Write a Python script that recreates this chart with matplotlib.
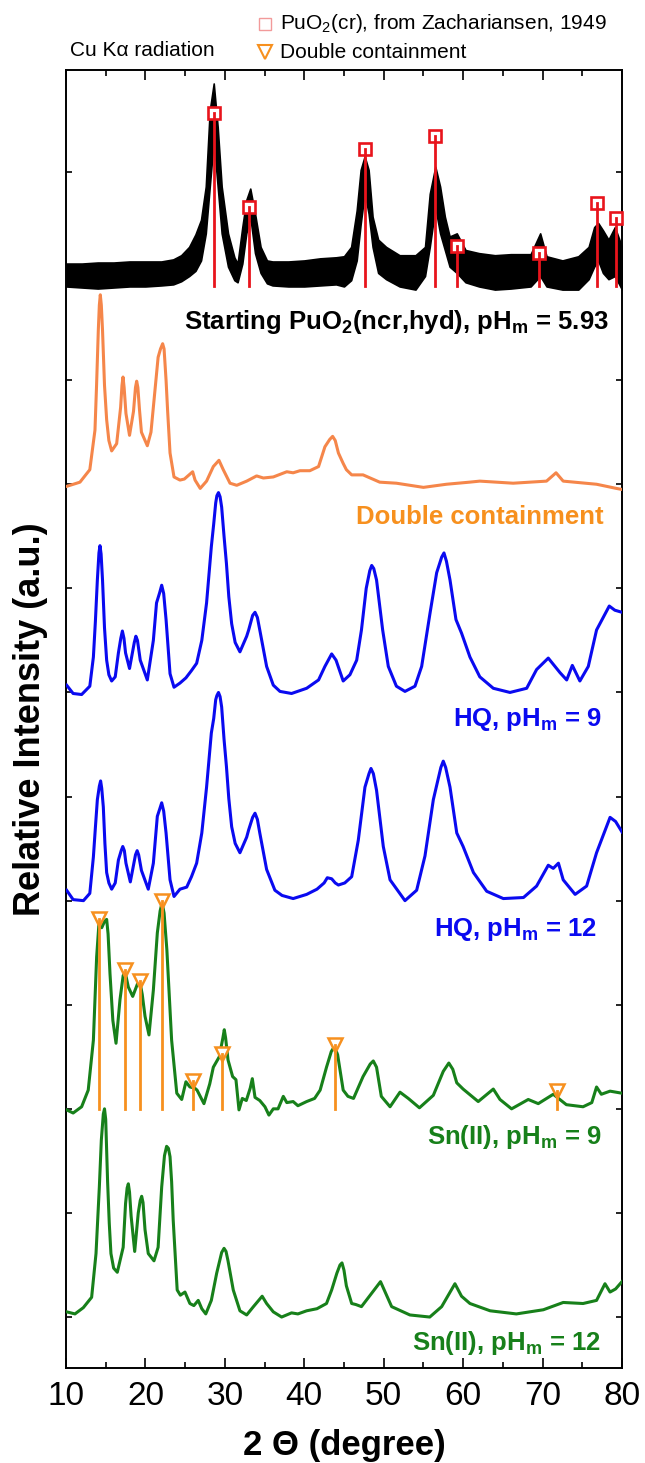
import matplotlib
matplotlib.use("Agg")
import matplotlib.pyplot as plt

plt.rcParams["font.family"] = ["Liberation Sans", "DejaVu Sans"]
plt.rcParams["mathtext.fontset"] = "custom"
plt.rcParams["mathtext.rm"] = "Liberation Sans"
plt.rcParams["mathtext.bf"] = "Liberation Sans:bold"

# ── data (2θ in degree, intensity in stacked units) ──
black_x = [10, 12, 14, 16, 18, 20, 22, 23.5, 24.5, 25.5, 26.3, 27.0, 27.6, 28.1, 28.6, 29.1,
           29.6, 30.4, 31.2, 31.6, 32.2, 32.7, 33.2, 33.8, 34.5, 35.3, 36, 38, 40, 42, 44, 45.0,
           45.9, 46.6, 47.1, 47.6, 48.1, 48.6, 49.3, 50.3, 52, 54, 55.2, 55.8, 56.5, 57.1, 57.7,
           58.3, 59.2, 60.3, 62, 64, 66, 68.5, 69.7, 70.5, 72.5, 74.5, 75.8, 76.5, 77.0, 77.6,
           78.3, 79.1, 80]
black_lo = [-0.10, -0.11, -0.12, -0.11, -0.10, -0.10, -0.09, -0.08, -0.05, 0.00, 0.05, 0.15, 0.41,
            0.86, 1.30, 0.86, 0.41, 0.09, -0.04, -0.06, 0.12, 0.41, 0.57, 0.22, 0.03, -0.07, -0.09,
            -0.10, -0.10, -0.09, -0.08, -0.10, -0.04, 0.15, 0.50, 0.80, 0.60, 0.28, 0.03, -0.03,
            -0.10, -0.13, 0.00, 0.28, 0.66, 0.41, 0.25, 0.09, 0.03, -0.06, -0.10, -0.13, -0.12,
            -0.10, 0.00, -0.10, -0.13, -0.13, -0.03, 0.09, 0.15, 0.03, -0.03, 0.00, -0.13]
black_hi = [0.12, 0.12, 0.13, 0.13, 0.14, 0.14, 0.14, 0.16, 0.20, 0.28, 0.40, 0.54, 0.86, 1.59,
            1.85, 1.43, 0.86, 0.41, 0.18, 0.12, 0.47, 0.73, 0.84, 0.60, 0.28, 0.15, 0.14, 0.14,
            0.15, 0.17, 0.18, 0.19, 0.28, 0.63, 1.02, 1.15, 1.02, 0.57, 0.35, 0.28, 0.20, 0.20,
            0.28, 0.79, 1.05, 0.86, 0.57, 0.38, 0.41, 0.25, 0.22, 0.20, 0.21, 0.21, 0.41, 0.19,
            0.15, 0.19, 0.28, 0.47, 0.51, 0.44, 0.35, 0.47, 0.28]

orange_x = [10.1, 11.76, 13.0, 13.65, 13.85, 14.07, 14.2, 14.32, 14.45, 14.6, 14.85, 15.12, 15.4,
            15.75, 16.38, 16.88, 17.05, 17.18, 17.32, 17.55, 18.0, 18.5, 18.75, 18.9, 19.05,
            19.25, 19.5, 20.24, 20.7, 21.2, 21.6, 21.9, 22.17, 22.35, 22.6, 22.8, 23.1, 23.6,
            24.35, 24.9, 25.95, 26.25, 26.9, 27.7, 28.55, 29.26, 29.8, 30.65, 31.5, 32.75, 34.0,
            34.85, 36.1, 37.8, 38.6, 39.46, 40.7, 41.8, 42.6, 43.2, 43.57, 43.9, 44.3, 44.9, 45.3,
            45.97, 47.4, 49.5, 51.6, 55.0, 57.9, 60.8, 62.1, 66.3, 70.5, 71.7, 72.6, 76.8, 79.3, 80]
orange_y = [-0.02, 0.02, 0.14, 0.52, 0.95, 1.48, 1.72, 1.82, 1.72, 1.48, 0.95, 0.62, 0.42, 0.32,
            0.39, 0.74, 0.95, 1.03, 0.93, 0.68, 0.47, 0.70, 0.93, 0.99, 0.93, 0.72, 0.50, 0.37,
            0.50, 0.90, 1.22, 1.30, 1.35, 1.30, 1.00, 0.70, 0.30, 0.07, 0.04, 0.05, 0.12, 0.04,
            -0.04, 0.03, 0.17, 0.23, 0.14, 0.01, -0.01, 0.03, 0.08, 0.06, 0.07, 0.12, 0.11, 0.13,
            0.13, 0.17, 0.36, 0.43, 0.46, 0.42, 0.30, 0.20, 0.14, 0.09, 0.09, 0.02, 0.01, -0.03,
            0.00, 0.02, 0.03, 0.01, 0.03, 0.11, 0.03, 0.00, -0.04, -0.05]

hq9_x = [10.08, 10.9, 11.97, 13.0, 13.45, 13.7, 13.95, 14.15, 14.28, 14.42, 14.6, 14.85, 15.12,
         15.4, 15.75, 16.2, 16.6, 16.9, 17.1, 17.3, 17.5, 18.0, 18.6, 18.8, 19.0, 19.35, 20.24,
         21.0, 21.4, 21.8, 22.05, 22.3, 22.6, 23.1, 23.6, 24.35, 25.1, 25.8, 26.45, 27.1, 27.7,
         28.3, 28.6, 28.85, 29.0, 29.2, 29.4, 29.6, 29.9, 30.2, 30.5, 30.86, 31.3, 31.9, 32.75,
         33.0, 33.5, 33.8, 34.1, 34.4, 35.26, 36.1, 36.94, 38.4, 40.3, 41.8, 42.6, 43.45, 44.0,
         44.9, 45.75, 46.6, 47.2, 47.8, 48.25, 48.49, 48.75, 49.1, 49.87, 50.58, 51.6, 52.68,
         53.94, 54.78, 55.83, 56.67, 57.3, 57.59, 57.9, 58.35, 59.1, 59.8, 60.86, 62.1, 63.8,
         65.9, 68.0, 69.25, 70.72, 72.2, 73.04, 73.75, 74.7, 75.76, 76.8, 78.4, 79.1, 80.0]
hq9_y = [0.07, -0.01, -0.02, 0.06, 0.34, 0.68, 1.08, 1.34, 1.41, 1.33, 1.08, 0.62, 0.31, 0.17,
         0.11, 0.15, 0.38, 0.52, 0.59, 0.52, 0.38, 0.23, 0.48, 0.54, 0.50, 0.31, 0.12, 0.50, 0.86,
         0.96, 1.03, 0.95, 0.70, 0.18, 0.05, 0.09, 0.14, 0.21, 0.28, 0.50, 0.86, 1.40, 1.62, 1.82,
         1.89, 1.92, 1.88, 1.78, 1.50, 1.24, 0.92, 0.66, 0.48, 0.39, 0.54, 0.60, 0.74, 0.77, 0.72,
         0.60, 0.25, 0.07, 0.01, -0.01, 0.04, 0.12, 0.25, 0.37, 0.31, 0.11, 0.17, 0.31, 0.60,
         1.00, 1.17, 1.22, 1.19, 1.08, 0.60, 0.25, 0.06, 0.01, 0.06, 0.25, 0.76, 1.15, 1.30, 1.34,
         1.26, 1.08, 0.70, 0.57, 0.34, 0.15, 0.04, 0.00, 0.04, 0.22, 0.33, 0.19, 0.12, 0.26, 0.11,
         0.25, 0.60, 0.83, 0.79, 0.77]

hq12_x = [10.08, 10.9, 12.2, 13.0, 13.45, 13.7, 13.95, 14.2, 14.36, 14.5, 14.7, 14.9, 15.12, 15.4,
          15.75, 16.2, 16.6, 16.95, 17.15, 17.35, 17.55, 18.1, 18.75, 18.96, 19.15, 19.5, 20.36,
          21.0, 21.5, 21.8, 22.05, 22.3, 22.6, 23.1, 23.6, 24.35, 25.2, 25.8, 26.45, 27.1, 27.7,
          28.3, 28.6, 28.85, 29.0, 29.2, 29.4, 29.6, 29.9, 30.2, 30.5, 30.86, 31.3, 31.9, 32.75,
          33.0, 33.5, 33.8, 34.1, 34.4, 35.26, 36.3, 37.2, 38.6, 40.3, 41.6, 42.5, 42.9, 43.45,
          43.9, 44.3, 45.1, 45.97, 46.8, 47.64, 48.15, 48.4, 48.7, 49.1, 49.95, 50.8, 52.68, 54.15,
          55.2, 56.25, 56.8, 57.2, 57.5, 57.8, 58.35, 59.2, 60.0, 61.3, 62.97, 65.06, 67.6, 69.25,
          70.72, 71.35, 72.0, 72.6, 74.1, 75.55, 76.8, 78.5, 79.2, 80.0]
hq12_y = [0.10, 0.01, 0.00, 0.07, 0.42, 0.70, 0.97, 1.10, 1.15, 1.08, 0.90, 0.55, 0.27, 0.17,
          0.11, 0.17, 0.39, 0.48, 0.52, 0.48, 0.36, 0.18, 0.44, 0.48, 0.44, 0.29, 0.11, 0.36,
          0.81, 0.88, 0.94, 0.86, 0.65, 0.20, 0.04, 0.11, 0.13, 0.23, 0.36, 0.65, 1.09, 1.61,
          1.75, 1.93, 1.97, 2.00, 1.96, 1.86, 1.55, 1.29, 0.98, 0.71, 0.55, 0.46, 0.61, 0.68,
          0.80, 0.84, 0.78, 0.65, 0.30, 0.10, 0.05, 0.02, 0.06, 0.11, 0.17, 0.22, 0.21, 0.17,
          0.15, 0.17, 0.23, 0.58, 1.09, 1.22, 1.27, 1.22, 1.06, 0.52, 0.20, 0.00, 0.10, 0.43,
          0.97, 1.15, 1.28, 1.34, 1.28, 1.09, 0.65, 0.52, 0.27, 0.09, 0.02, 0.03, 0.14, 0.34,
          0.31, 0.36, 0.20, 0.06, 0.14, 0.46, 0.80, 0.76, 0.66]

sn9_x = [10.08, 10.9, 11.97, 12.8, 13.45, 13.86, 14.15, 14.5, 14.85, 15.12, 15.3, 15.54, 15.9,
         16.3, 16.8, 17.2, 17.43, 17.85, 18.4, 19.0, 19.3, 19.6, 19.95, 20.45, 21.0, 21.5, 21.85,
         22.1, 22.35, 22.7, 23.3, 23.95, 24.57, 25.1, 25.6, 26.2, 26.5, 27.37, 28.1, 28.55, 29.3,
         29.75, 29.93, 30.1, 30.4, 30.98, 31.4, 31.78, 32.2, 32.7, 33.2, 33.46, 33.8, 34.4, 35.05,
         35.55, 36.1, 36.7, 37.36, 37.8, 38.6, 39.2, 40.3, 41.3, 42.0, 42.8, 43.4, 43.8, 44.2,
         44.9, 45.5, 46.2, 47.4, 48.3, 48.69, 49.1, 49.7, 50.8, 52.05, 53.1, 54.5, 56.25, 57.5,
         58.2, 58.7, 59.2, 60.0, 61.9, 63.8, 64.64, 66.1, 68.2, 69.46, 71.35, 73.0, 75.1, 76.2,
         76.8, 77.4, 78.5, 80.0]
sn9_y = [-0.01, -0.04, 0.02, 0.18, 0.66, 1.46, 1.78, 1.74, 1.80, 1.82, 1.68, 1.30, 0.85, 0.63,
         1.05, 1.28, 1.32, 1.17, 1.08, 1.20, 1.22, 1.10, 0.89, 0.71, 1.14, 1.69, 1.90, 1.98, 1.88,
         1.53, 0.66, 0.15, 0.09, 0.26, 0.21, 0.20, 0.18, 0.05, 0.24, 0.40, 0.50, 0.68, 0.76, 0.68,
         0.47, 0.31, 0.28, -0.01, 0.10, 0.08, 0.20, 0.29, 0.11, 0.08, 0.02, -0.06, 0.00, 0.00,
         0.12, 0.06, 0.07, 0.03, 0.07, 0.10, 0.18, 0.40, 0.55, 0.60, 0.52, 0.18, 0.12, 0.10, 0.31,
         0.43, 0.46, 0.40, 0.12, 0.02, 0.16, 0.10, 0.01, 0.13, 0.36, 0.44, 0.38, 0.25, 0.19, 0.07,
         0.19, 0.09, 0.00, 0.09, 0.05, 0.14, 0.04, 0.02, 0.06, 0.21, 0.14, 0.17, 0.15]

sn12_x = [10.08, 11.13, 12.18, 13.23, 13.78, 14.2, 14.45, 14.7, 14.85, 15.0, 15.24, 15.45, 15.66,
          16.0, 16.46, 17.2, 17.5, 17.7, 17.85, 18.0, 18.2, 18.65, 19.1, 19.35, 19.53, 19.7,
          19.95, 20.36, 21.08, 21.6, 22.05, 22.4, 22.67, 22.9, 23.1, 23.3, 23.5, 24.0, 24.4,
          24.98, 25.6, 26.1, 26.65, 27.1, 27.6, 28.3, 28.97, 29.6, 29.9, 30.15, 30.4, 31.06, 31.9,
          32.75, 33.6, 34.7, 35.26, 36.1, 37.15, 38.4, 39.2, 40.3, 41.6, 42.8, 43.45, 44.1, 44.5,
          44.75, 45.0, 45.3, 45.97, 46.5, 47.2, 48.4, 49.6, 50.3, 51.0, 53.3, 55.8, 57.3, 58.97,
          59.8, 60.86, 63.4, 66.7, 70.1, 72.6, 75.1, 76.8, 77.86, 78.5, 79.2, 80.0]
sn12_y = [0.05, 0.03, 0.09, 0.19, 0.61, 1.25, 1.70, 1.95, 2.00, 1.90, 1.30, 0.90, 0.61, 0.47,
          0.43, 0.67, 1.09, 1.24, 1.28, 1.20, 0.97, 0.63, 1.00, 1.12, 1.16, 1.10, 0.84, 0.61,
          0.54, 0.67, 1.25, 1.55, 1.64, 1.62, 1.54, 1.30, 0.93, 0.26, 0.21, 0.24, 0.13, 0.11,
          0.16, 0.08, 0.03, 0.16, 0.42, 0.62, 0.66, 0.63, 0.54, 0.26, 0.06, 0.02, 0.10, 0.20,
          0.13, 0.05, 0.00, 0.04, 0.03, 0.06, 0.08, 0.13, 0.26, 0.42, 0.50, 0.52, 0.45, 0.30,
          0.13, 0.12, 0.10, 0.22, 0.34, 0.22, 0.10, 0.02, 0.00, 0.10, 0.32, 0.20, 0.13, 0.06,
          0.03, 0.07, 0.14, 0.13, 0.16, 0.32, 0.24, 0.27, 0.34]

# reference sticks
puo2_pos = [28.6, 33.1, 47.6, 56.5, 59.2, 69.6, 76.9, 79.3]
puo2_int = [1.57, 0.66, 1.22, 1.35, 0.29, 0.22, 0.70, 0.56]
dc_pos = [14.2, 17.4, 19.3, 22.05, 26.0, 29.6, 43.85, 71.85]
dc_int = [1.82, 1.33, 1.23, 2.00, 0.27, 0.53, 0.61, 0.17]

offsets = {"black": 10, "orange": 8, "hq9": 6, "hq12": 4, "sn9": 2, "sn12": 0}

BLUE = "#0a0af0"
GREEN = "#17801a"
ORANGE_LINE = "#f5864a"
ORANGE = "#f7901e"
RED = "#e8141c"


def shift(vals, off):
    return [v + off for v in vals]


def main():
    fig = plt.figure(figsize=(6.45, 14.63), dpi=100)
    ax = fig.add_axes([0.1023, 0.0649, 0.8620, 0.8873])

    # PuO2 reference pattern (noisy band)
    ob = offsets["black"]
    ax.fill_between(black_x, shift(black_lo, ob), shift(black_hi, ob),
                    color="black", lw=1.2, zorder=2)

    for xs, ys, key, col in [(orange_x, orange_y, "orange", ORANGE_LINE),
                             (hq9_x, hq9_y, "hq9", BLUE),
                             (hq12_x, hq12_y, "hq12", BLUE),
                             (sn9_x, sn9_y, "sn9", GREEN),
                             (sn12_x, sn12_y, "sn12", GREEN)]:
        ax.plot(xs, shift(ys, offsets[key]), color=col, lw=2.2, zorder=3)

    # PuO2(cr) sticks
    for p, h in zip(puo2_pos, puo2_int):
        ax.plot([p], [ob + h], marker="s", ms=8.5, mfc="white", mec=RED, mew=1.9,
                ls="none", zorder=5, clip_on=False)
        ax.plot([p, p], [ob - 0.1, ob + h], color=RED, lw=2.0, zorder=6, clip_on=False)

    # double containment sticks
    o9 = offsets["sn9"]
    for p, h in zip(dc_pos, dc_int):
        ax.plot([p], [o9 + h], marker="v", ms=10, mfc="white", mec=ORANGE, mew=1.8,
                ls="none", zorder=5)
        ax.plot([p, p], [o9, o9 + h], color=ORANGE, lw=2.0, zorder=6)

    ax.set_xlim(10, 80)
    ax.set_ylim(-0.49, 11.98)
    ax.set_xticks(range(10, 81, 10))
    ax.set_xticks(range(15, 80, 10), minor=True)
    ax.set_yticks(range(0, 12))
    ax.set_yticklabels([])
    ax.tick_params(axis="x", which="major", direction="in", length=7.5, width=1.2,
                   top=True, labelsize=24, pad=9)
    ax.tick_params(axis="x", which="minor", direction="in", length=4.5, width=1.2, top=True)
    ax.tick_params(axis="y", which="major", direction="in", length=4.5, width=1.2, right=True)
    for s in ax.spines.values():
        s.set_linewidth(1.4)

    # curve labels
    lab = dict(ha="right", va="baseline", fontsize=18.5, fontweight="bold")
    ax.text(78.3, 9.49, r"Starting PuO$_\mathbf{2}$(ncr,hyd), pH$_\mathbf{m}$ = 5.93",
            color="black", **lab)
    ax.text(77.75, 7.62, "Double containment", color=ORANGE, **lab)
    ax.text(77.45, 5.68, r"HQ, pH$_\mathbf{m}$ = 9", color=BLUE, **lab)
    ax.text(76.9, 3.66, r"HQ, pH$_\mathbf{m}$ = 12", color=BLUE, **lab)
    ax.text(77.45, 1.66, r"Sn(II), pH$_\mathbf{m}$ = 9", color=GREEN, **lab)
    ax.text(77.35, -0.32, r"Sn(II), pH$_\mathbf{m}$ = 12", color=GREEN, **lab)

    # header texts and legend
    fig.text(0.1085, 0.9617, "Cu K\u03b1 radiation", fontsize=15, va="baseline")
    fig.text(0.4341, 0.9802, r"PuO$_\mathregular{2}$(cr), from Zachariansen, 1949",
             fontsize=15, va="baseline")
    fig.text(0.4341, 0.9604, "Double containment", fontsize=15, va="baseline")
    ax.plot([0.4109], [0.9836], marker="s", ms=9, mfc="white", mec="#f29a9a", mew=1.0,
            transform=fig.transFigure, clip_on=False)
    ax.plot([0.4109], [0.9645], marker="v", ms=9.5, mfc="white", mec=ORANGE, mew=1.5,
            transform=fig.transFigure, clip_on=False)

    fig.text(0.5333, 0.0055, "2 \u0398 (degree)", fontsize=25, fontweight="bold",
             ha="center", va="baseline")
    fig.text(0.048, 0.5086, "Relative Intensity (a.u.)", fontsize=26, fontweight="bold",
             rotation=90, ha="center", va="center")

    fig.savefig("out.png", dpi=100)


if __name__ == "__main__":
    main()
